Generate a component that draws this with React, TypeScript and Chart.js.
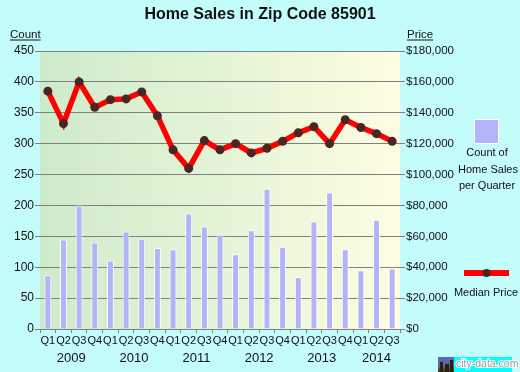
import React, { useEffect, useRef } from "react";
import { Chart, registerables } from "chart.js";
Chart.register(...registerables);

const quarterLabels = ["Q1","Q2","Q3","Q4","Q1","Q2","Q3","Q4","Q1","Q2","Q3","Q4","Q1","Q2","Q3","Q4","Q1","Q2","Q3","Q4","Q1","Q2","Q3"];
const yearLabels = ["2009","2010","2011","2012","2013","2014"];
const yearStartIndex = [0, 4, 8, 12, 16, 20];
const yearQuarterCount = [4, 4, 4, 4, 4, 3];
const salesCount = [87,145,200,140,111,158,146,131,129,187,166,153,121,160,227,133,84,174,221,129,95,177,98];
const medianPrice = [154000,133000,160000,143500,148500,149000,153500,138000,116000,104000,122000,116000,120000,114000,117000,121500,127000,131000,120000,135500,130500,126500,121500];
const countMax = 450;
const countStep = 50;
const priceMax = 180000;
const priceStep = 20000;

const FONT = "'Liberation Sans', Arial, sans-serif";

const decorPlugin = {
  id: "decor",
  beforeDraw(chart: any) {
    const { ctx, chartArea } = chart;
    ctx.save();
    ctx.fillStyle = "#c4fcfc";
    ctx.fillRect(0, 0, chart.width, chart.height);
    const g = ctx.createLinearGradient(chartArea.left, 0, chartArea.right, 0);
    g.addColorStop(0, "#cdebcb");
    g.addColorStop(1, "#fdfde2");
    ctx.fillStyle = g;
    ctx.fillRect(chartArea.left, chartArea.top, chartArea.right - chartArea.left, chartArea.bottom - chartArea.top);
    ctx.restore();
  },
  afterDraw(chart: any) {
    const { ctx } = chart;
    const x = chart.scales.x;
    ctx.save();
    // title
    ctx.fillStyle = "#111";
    ctx.font = `bold 16px ${FONT}`;
    ctx.textAlign = "center";
    ctx.textBaseline = "middle";
    ctx.fillText("Home Sales in Zip Code 85901", 260, 15);
    // axis titles
    ctx.font = `11.5px ${FONT}`;
    ctx.textAlign = "left";
    ctx.textBaseline = "alphabetic";
    ctx.fillText("Count", 10, 38);
    let w = ctx.measureText("Count").width;
    ctx.fillRect(10, 39.5, w, 1);
    ctx.fillText("Price", 407, 38);
    w = ctx.measureText("Price").width;
    ctx.fillRect(407, 39.5, w, 1);
    // years
    ctx.font = `13px ${FONT}`;
    ctx.textAlign = "center";
    ctx.textBaseline = "middle";
    yearLabels.forEach((yl, i) => {
      const a = x.getPixelForValue(yearStartIndex[i]);
      const b = x.getPixelForValue(yearStartIndex[i] + yearQuarterCount[i] - 1);
      ctx.fillText(yl, (a + b) / 2, 358);
    });
    // legend
    ctx.fillStyle = "#b3b3fa";
    ctx.fillRect(475, 120, 23, 23);
    ctx.strokeStyle = "#ffffff";
    ctx.lineWidth = 1;
    ctx.strokeRect(474.5, 119.5, 24, 24);
    ctx.fillStyle = "#111";
    ctx.font = `11px ${FONT}`;
    ctx.fillText("Count of", 487, 153);
    ctx.fillText("Home Sales", 488, 170);
    ctx.fillText("per Quarter", 487, 186);
    ctx.fillStyle = "#ff0000";
    ctx.fillRect(464, 270, 45, 6);
    ctx.fillStyle = "#4a2525";
    ctx.beginPath();
    ctx.arc(486.5, 273, 4, 0, Math.PI * 2);
    ctx.fill();
    ctx.fillStyle = "#111";
    ctx.fillText("Median Price", 486, 293);
    // watermark
    const ig = ctx.createLinearGradient(0, 357, 0, 372);
    ig.addColorStop(0, "#4a6ad0");
    ig.addColorStop(0.6, "#6a6a80");
    ig.addColorStop(1, "#3a2a10");
    ctx.fillStyle = ig;
    ctx.fillRect(438, 357, 16, 15);
    ctx.fillStyle = "#2a2010";
    ctx.fillRect(440, 362, 3, 10);
    ctx.fillRect(445, 364, 4, 8);
    ctx.fillRect(450, 360, 3, 12);
    ctx.fillStyle = "#00ffff";
    ctx.fillRect(454, 357, 58, 15);
    ctx.font = `10.5px ${FONT}`;
    ctx.textAlign = "left";
    ctx.strokeStyle = "#ffffff";
    ctx.lineWidth = 2;
    ctx.strokeText("city-data.com", 456, 364.5);
    ctx.fillStyle = "#9a9a9a";
    ctx.fillText("city-data.com", 456, 364.5);
    ctx.restore();
  },
};

export default function App() {
  const ref = useRef<HTMLCanvasElement>(null);
  useEffect(() => {
    document.body.style.margin = "0";
    const chart = new Chart(ref.current!, {
      type: "bar",
      data: {
        labels: quarterLabels,
        datasets: [
          {
            type: "line",
            label: "Median Price",
            data: medianPrice,
            yAxisID: "y1",
            borderColor: "#ff0000",
            borderWidth: 5.5,
            pointRadius: 4.5,
            pointBackgroundColor: "#4a2525",
            pointBorderWidth: 0,
            tension: 0,
            order: 0,
          } as any,
          {
            type: "bar",
            label: "Count of Home Sales per Quarter",
            data: salesCount,
            yAxisID: "y",
            backgroundColor: "#b3b3fa",
            borderColor: "#ffffff",
            borderWidth: 1,
            barPercentage: 0.44,
            categoryPercentage: 1,
            order: 1,
          },
        ],
      },
      options: {
        responsive: false,
        animation: false,
        devicePixelRatio: 1,
        layout: { padding: { top: 51, left: 0, right: 0, bottom: 0 } },
        plugins: { legend: { display: false }, tooltip: { enabled: false }, title: { display: false } },
        scales: {
          x: {
            type: "category",
            offset: true,
            grid: { offset: true, drawOnChartArea: false, drawTicks: true, tickLength: 4, color: "#808080" },
            border: { display: false },
            ticks: { autoSkip: false, maxRotation: 0, minRotation: 0, padding: 1, color: "#111", font: { family: FONT, size: 11 } },
            afterFit: (s: any) => { s.height = 43; },
          },
          y: {
            position: "left",
            min: 0,
            max: countMax,
            ticks: { stepSize: countStep, padding: 1, color: "#111", font: { family: FONT, size: 12 } },
            grid: { color: "#808080", lineWidth: 1, tickLength: 5, drawTicks: true },
            border: { display: false },
            afterFit: (s: any) => { s.width = 40; },
          },
          y1: {
            position: "right",
            min: 0,
            max: priceMax,
            ticks: {
              stepSize: priceStep,
              padding: 1,
              color: "#111",
              font: { family: FONT, size: 11.5 },
              callback: (v: any) => "$" + Number(v).toLocaleString("en-US"),
            },
            grid: { drawOnChartArea: false, color: "#808080", tickLength: 5, drawTicks: true },
            border: { display: false },
            afterFit: (s: any) => { s.width = 120; },
          },
        },
      } as any,
      plugins: [decorPlugin],
    });
    return () => chart.destroy();
  }, []);
  return (
    <div style={{ width: 520, height: 372 }}>
      <canvas ref={ref} width={520} height={372} style={{ display: "block" }} />
    </div>
  );
}
